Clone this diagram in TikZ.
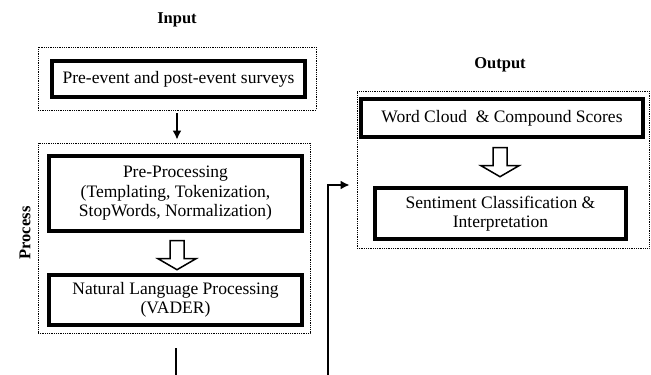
\documentclass[tikz,border=0pt]{standalone}
\usepackage{fontspec}
\setmainfont{Liberation Serif}
\usetikzlibrary{arrows.meta,calc}

\tikzset{
  groupbox/.style={draw,densely dotted,line width=0.8pt,inner sep=0pt},
  stagebox/.style={draw,line width=3.4pt,align=center,inner sep=0pt,
    font=\fontsize{17.5}{19.5}\selectfont},
  title/.style={font=\fontsize{16.5}{19}\bfseries},
  link/.style={line width=2.6pt},
  hollow down/.pic={\draw[line width=1.5pt,fill=white]
    (-7,0) -- (7,0) -- (7,18) -- (19,18) -- (0,29) -- (-19,18) -- (-7,18) -- cycle;}
}

\begin{document}
\begin{tikzpicture}[x=1pt,y=-1pt,>={Latex[length=9pt,width=9pt]}]
\useasboundingbox (0,0) rectangle (651,375);
% input
\node[title] (intitle) at (177,20) {Input};
\node[groupbox,minimum width=278pt,minimum height=63pt] (input) at (177,78.5) {};
\node[stagebox,minimum width=253pt,minimum height=36pt] (survey) at (178.5,79) {Pre-event and post-event surveys};
% process
\node[groupbox,minimum width=272pt,minimum height=190pt] (process) at (174,238) {};
\node[title,rotate=90] (proctitle) at (25,233) {Process};
\node[stagebox,minimum width=253pt,minimum height=75pt] (prep) at (175.5,193.5)
  {Pre-Processing\\(Templating, Tokenization,\\StopWords, Normalization)};
\node[stagebox,minimum width=253pt,minimum height=50pt] (nlp) at (175.5,300)
  {Natural Language Processing\\(VADER)};
\pic at ($(prep.south)+(1.5,8)$) {hollow down};
% output
\node[title] (outtitle) at (500,65) {Output};
\node[groupbox,minimum width=292pt,minimum height=157pt] (output) at (503,169.5) {};
\node[stagebox,minimum width=282pt,minimum height=38pt] (cloud) at (502,118) {Word Cloud~ \& Compound Scores};
\node[stagebox,minimum width=251pt,minimum height=51pt] (sentiment) at (500.5,213.5)
  {Sentiment Classification \&\\Interpretation};
\pic at ($(cloud.south)+(-2,9)$) {hollow down};
% connectors
\coordinate (feed) at (328,376);
\draw[link,->,shorten <=3pt,shorten >=3pt] (input.south) -- (input.south |- process.north);
\draw[link,shorten <=15pt] ($(process.south)+(2,0)$) -- ($(process.south |- feed)+(2,0)$);
\draw[link,->,shorten >=7pt] (feed) |- ($(output.west)+(0,15.5)$);
\end{tikzpicture}
\end{document}
